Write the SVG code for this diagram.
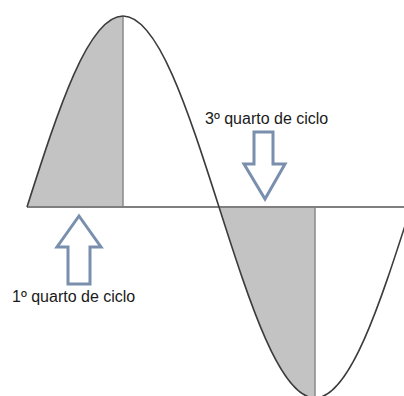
<svg xmlns="http://www.w3.org/2000/svg" width="404" height="396" viewBox="0 0 404 396">
<style>
.shade{fill:#c3c3c3;stroke:none}
.edge{stroke:#8a8a8a;stroke-width:1.5;fill:none}
.axis{stroke:#7f7f7f;stroke-width:2;fill:none}
.wave{stroke:#3c3c3c;stroke-width:1.6;fill:none}
.arrow{fill:#ffffff;stroke:#7a8fae;stroke-width:3;stroke-linejoin:miter}
.lbl{font-family:"Liberation Sans",Arial,sans-serif;font-size:16px;fill:#1a1a1a}
</style>
<rect width="404" height="396" fill="#ffffff"/>
<g id="shading">
<path class="shade" d="M27,207 C58.31,109.15 88.26,16 123,16 L123,207 Z"/>
<path class="shade" d="M219,207 C250.31,304.85 280.26,398 315,398 L315,207 Z"/>
<line class="edge" x1="123" y1="16" x2="123" y2="207"/>
<line class="edge" x1="315" y1="207" x2="315" y2="396"/>
</g>
<g id="axis">
<line class="axis" x1="27" y1="207" x2="404" y2="207"/>
</g>
<g id="wave">
<path class="wave" d="M27,207 C58.31,109.15 88.26,16 123,16 C157.74,16 187.69,109.15 219,207 C250.31,304.85 280.26,398 315,398 C349.74,398 379.69,304.85 411,207"/>
</g>
<g id="connectors">
<polygon id="arrow-up" class="arrow" points="79,216 101,247 90,247 90,284 68,284 68,247 57,247"/>
<polygon id="arrow-down" class="arrow" points="254,132 273,132 273,164 285,164 265,199 244,164 254,164"/>
</g>
<g id="label-1">
<text class="lbl" x="12" y="302">1º quarto de ciclo</text>
</g>
<g id="label-3">
<text class="lbl" x="205" y="124">3º quarto de ciclo</text>
</g>
</svg>
